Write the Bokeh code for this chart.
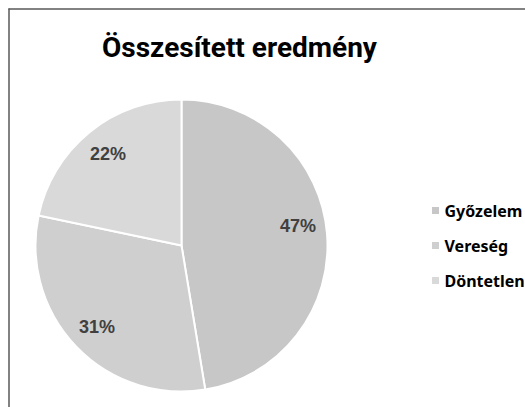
import math
from bokeh.plotting import figure
from bokeh.models import ColumnDataSource, Range1d
from bokeh.core.properties import value
from bokeh.embed import file_html
from bokeh.resources import INLINE

title = "Összesített eredmény"
categories = ["Győzelem", "Vereség", "Döntetlen"]
shares = [47.4, 30.9, 21.7]
colors = ["#c7c7c7", "#cfcfcf", "#d9d9d9"]

W, H = 525, 407
p = figure(width=W, height=H, output_backend="svg", toolbar_location=None,
           x_range=Range1d(0, W), y_range=Range1d(0, H), min_border=0)
p.axis.visible = False
p.grid.visible = False
p.outline_line_color = None

def fy(sy):
    return H - sy

cx, cy, r = 181, fy(245), 146
label_nudge_y = [10, 0, 0]  # layout tweak (px, upward)
total = sum(shares)
starts, ends, lx, ly, labels = [], [], [], [], []
acc = 0.0
for v, ny in zip(shares, label_nudge_y):
    a0 = math.pi / 2 - 2 * math.pi * acc / total
    acc += v
    a1 = math.pi / 2 - 2 * math.pi * acc / total
    starts.append(a0)
    ends.append(a1)
    mid = (a0 + a1) / 2
    lx.append(cx + 0.8 * r * math.cos(mid))
    ly.append(cy + 0.81 * r * math.sin(mid) + ny)
    labels.append(f"{round(v / total * 100)}%")

src = ColumnDataSource(dict(start=starts, end=ends, color=colors, lx=lx, ly=ly, label=labels, cat=categories))
p.wedge(x=cx, y=cy, radius=r, start_angle="end", end_angle="start", source=src,
        fill_color="color", line_color="white", line_width=2)
p.text(x="lx", y="ly", text="label", source=src, text_align="center", text_baseline="middle",
       text_font=value("Liberation Sans"), text_font_style="bold", text_font_size="18px", text_color="#404040")

p.text(x=[239], y=[fy(47)], text=[title], text_align="center", text_baseline="alphabetic",
       text_font=value("Roboto"), text_font_style="bold", text_font_size="28px", text_color="#000000")

leg_y = [fy(210), fy(245), fy(280)]
p.scatter(x=[435] * 3, y=leg_y, marker="square", size=7, fill_color=colors, line_color=None)
p.text(x=[444] * 3, y=leg_y, text=categories, text_align="left", text_baseline="middle",
       text_font=value("Noto Sans"), text_font_style="bold", text_font_size="16px", text_color="#000000")

p.segment(x0=[8.5, 8], y0=[fy(8), fy(8.5)], x1=[8.5, W], y1=[0, fy(8.5)], line_color="#595959", line_width=1.5)

open("out.html", "w").write(file_html(p, INLINE))
